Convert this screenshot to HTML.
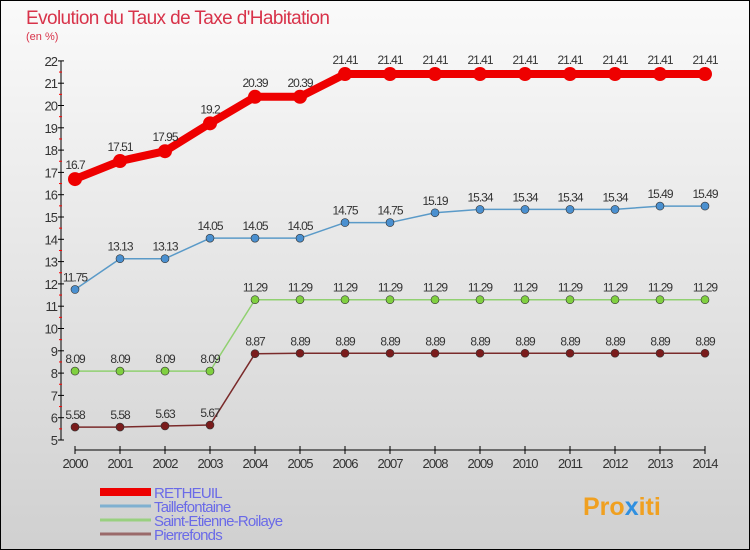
<!DOCTYPE html>
<html><head><meta charset="utf-8"><style>
body{margin:0;}
#c{width:750px;height:550px;position:relative;overflow:hidden;background:linear-gradient(#fafafa,#d0d0d0);font-family:"Liberation Sans",sans-serif;}
</style></head><body>
<div id="c">
<svg id="s" width="750" height="550" style="position:absolute;left:0;top:0">
<rect x="0.5" y="0.5" width="749" height="549" fill="none" stroke="#000" stroke-width="1"/>
<text x="26" y="24" font-size="19" fill="#d8334a" letter-spacing="-0.6">Evolution du Taux de Taxe d'Habitation</text>
<text x="26" y="40" font-size="11" fill="#d8334a">(en %)</text>
<g id="axes"></g><g id="series"></g><g id="legend"></g>
<text x="583" y="515" font-size="25" font-weight="bold" fill="#f0a020">Pro<tspan fill="#3090e0">x</tspan>iti</text>
</svg>
</div>
<script>
const years=[2000,2001,2002,2003,2004,2005,2006,2007,2008,2009,2010,2011,2012,2013,2014];
const yTicks=[5,6,7,8,9,10,11,12,13,14,15,16,17,18,19,20,21,22];
const retheuil=[16.7,17.51,17.95,19.2,20.39,20.39,21.41,21.41,21.41,21.41,21.41,21.41,21.41,21.41,21.41];
const taille=[11.75,13.13,13.13,14.05,14.05,14.05,14.75,14.75,15.19,15.34,15.34,15.34,15.34,15.49,15.49];
const saint=[8.09,8.09,8.09,8.09,11.29,11.29,11.29,11.29,11.29,11.29,11.29,11.29,11.29,11.29,11.29];
const pierre=[5.58,5.58,5.63,5.67,8.87,8.89,8.89,8.89,8.89,8.89,8.89,8.89,8.89,8.89,8.89];
const seriesNames=["RETHEUIL","Taillefontaine","Saint-Etienne-Roilaye","Pierrefonds"];
const NS="http://www.w3.org/2000/svg";
const X=i=>75+i*45, Y=v=>440-(v-5)*22.3;
function mk(t,a,p){const e=document.createElementNS(NS,t);for(const k in a)e.setAttribute(k,a[k]);p.appendChild(e);return e;}
const ax=document.getElementById('axes');
let l=mk('line',{x1:61,y1:Y(22),x2:61,y2:Y(5),stroke:'#000'},ax);


l=mk('line',{x1:X(0),y1:450,x2:X(14),y2:450,stroke:'#000'},ax);


yTicks.forEach(v=>{mk('line',{x1:58,y1:Y(v),x2:64,y2:Y(v),stroke:'#000'},ax);
 if(v<22)mk('line',{x1:59,y1:Y(v+0.5),x2:62,y2:Y(v+0.5),stroke:'#f00'},ax);
 const t=mk('text',{x:57,y:Y(v)+5,'font-size':13,'text-anchor':'end',fill:'#333','letter-spacing':'-1'},ax);t.textContent=v;
 
 });
years.forEach((yr,i)=>{mk('line',{x1:X(i),y1:446,x2:X(i),y2:454,stroke:'#000'},ax);
 const t=mk('text',{x:X(i),y:468,'font-size':13,'text-anchor':'middle',fill:'#333','letter-spacing':'-1'},ax);t.textContent=yr;
 
 });
const sg=document.getElementById('series');
function draw(arr,color,w,r,name,dot){
 const g=mk('g',{},sg);
 
 
 mk('polyline',{points:arr.map((v,i)=>X(i)+','+Y(v)).join(' '),fill:'none',stroke:color,'stroke-width':w,'stroke-linejoin':'round'},g);
 arr.forEach((v,i)=>{const c=mk('circle',{cx:X(i),cy:Y(v),r:r,fill:dot,stroke:'#333','stroke-width':r>5?0:0.6},g);
  
  
  const t=mk('text',{x:X(i),y:Y(v)-(r>5?10:8),'font-size':12,'text-anchor':'middle',fill:'#333','letter-spacing':'-1'},g);t.textContent=v;
  
  });
}
draw(pierre,'#7a2a2a',1.5,4,'pierrefonds-series','#7a1c1c');
draw(saint,'#90d070',1.5,4,'saint-etienne-series','#80d040');
draw(taille,'#5a9ac8',1.5,4,'taillefontaine-series','#4a90d0');
draw(retheuil,'#ee0000',8,7,'retheuil-series','#ee0000');
const lg=document.getElementById('legend');
const lc=['#ee0000','#7fb0d0','#99d080','#9a6a6a'],lw=[8,3,3,3];
seriesNames.forEach((n,i)=>{const y=492+i*14;
 const g=mk('g',{},lg);
 
 
 mk('line',{x1:100,y1:y,x2:151,y2:y,stroke:lc[i],'stroke-width':lw[i]},g);
 const t=mk('text',{x:154,y:y+6,'font-size':15,fill:'#6a6ae8','letter-spacing':'-0.8'},g);t.textContent=n;});
</script>
</body></html>
